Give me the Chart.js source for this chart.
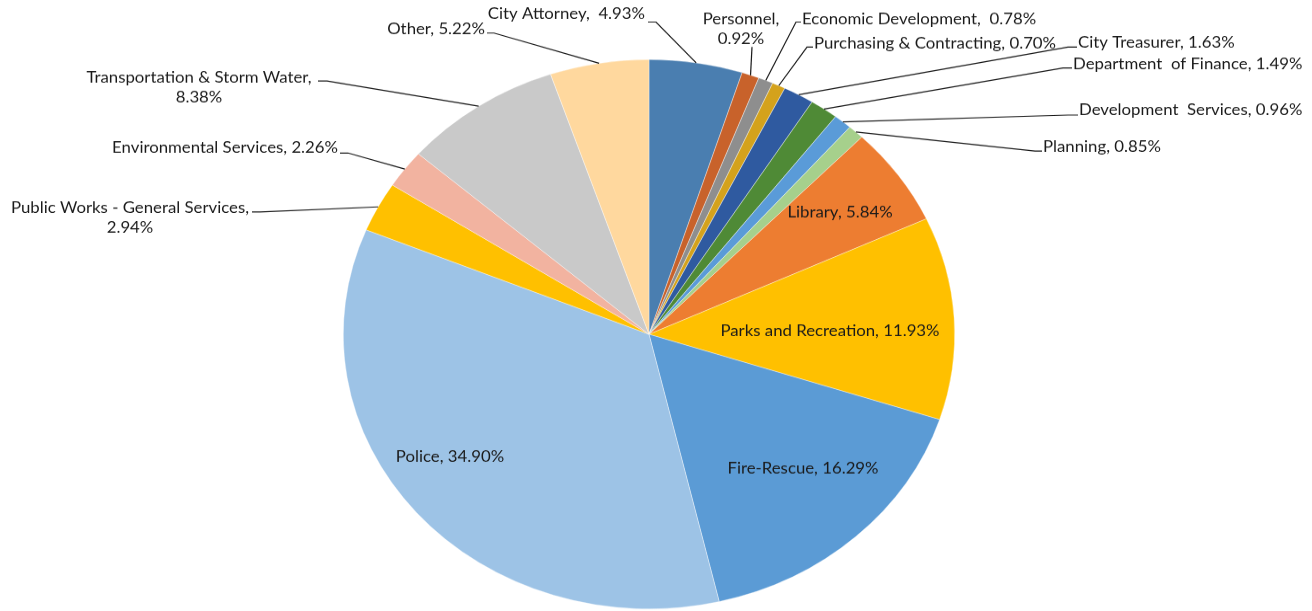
<!DOCTYPE html>
<html>
<head>
<meta charset="utf-8">
<script src="https://cdn.jsdelivr.net/npm/chart.js@4/dist/chart.umd.min.js"></script>
<style>
html,body{margin:0;padding:0;background:#fff;overflow:hidden;width:1312px;height:611px;}
#c{transform-origin:0 0;transform:scaleY(0.8985);display:block;}
</style>
</head>
<body>
<canvas id="c" width="1312" height="680"></canvas>
<script>
const categories = ["City Attorney","Personnel","Economic Development","Purchasing & Contracting","City Treasurer","Department of Finance","Development Services","Planning","Library","Parks and Recreation","Fire-Rescue","Police","Public Works - General Services","Environmental Services","Transportation & Storm Water","Other"];
const values = [4.93,0.92,0.78,0.70,1.63,1.49,0.96,0.85,5.84,11.93,16.29,34.90,2.94,2.26,8.38,5.22];
const valueLabels = ["4.93%","0.92%","0.78%","0.70%","1.63%","1.49%","0.96%","0.85%","5.84%","11.93%","16.29%","34.90%","2.94%","2.26%","8.38%","5.22%"];
const colors = ["#4a7eb0","#c8622b","#8e8e8e","#d4a21c","#2f5aa0","#4f8a36","#5a9bd8","#a6d08c","#ed7d31","#ffc000","#5b9bd5","#9dc3e6","#ffc000","#f2b3a0","#c9c9c9","#ffd89e"];

const SY = 611/680;
// label layout in final-picture pixels: text lines, anchor, alignment, leader start/elbow
const labelLayout = [
  {lines:["City Attorney,  4.93%"], x:645, y:14, align:"right", lead:[[648,22],[656,22]]},
  {lines:["Personnel,","0.92%"], x:741, y:19, align:"center", lead:[[752,47]]},
  {lines:["Economic Development,  0.78%"], x:802, y:19, align:"left", lead:[[801,22],[796,22]]},
  {lines:["Purchasing & Contracting, 0.70%"], x:814, y:44, align:"left", lead:[[813,47],[807,47]]},
  {lines:["City Treasurer, 1.63%"], x:1078, y:43, align:"left", lead:[[1077,47],[1068,47]]},
  {lines:["Department  of Finance, 1.49%"], x:1073, y:64, align:"left", lead:[[1072,68],[1063,68]]},
  {lines:["Development  Services, 0.96%"], x:1079, y:110, align:"left", lead:[[1078,115],[1068,115]]},
  {lines:["Planning, 0.85%"], x:1043, y:147, align:"left", lead:[[1042,151],[1035,151]]},
  {lines:["Library, 5.84%"], x:840, y:213, align:"center"},
  {lines:["Parks and Recreation, 11.93%"], x:830, y:331, align:"center"},
  {lines:["Fire-Rescue, 16.29%"], x:803, y:469, align:"center"},
  {lines:["Police, 34.90%"], x:450, y:457, align:"center"},
  {lines:["Public Works - General Services,","2.94%"], x:130, y:208, align:"center", lead:[[252,212],[260,212]]},
  {lines:["Environmental Services, 2.26%"], x:338, y:148, align:"right", lead:[[340,153],[348,153]]},
  {lines:["Transportation & Storm Water,","8.38%"], x:199, y:78, align:"center", lead:[[318,81],[327,81]]},
  {lines:["Other, 5.22%"], x:485, y:29, align:"right", lead:[[487,33],[494,33]]}
];

const labelPlugin = {
  id: "pieLabels",
  afterDatasetsDraw(chart) {
    const ctx = chart.ctx;
    const meta = chart.getDatasetMeta(0);
    ctx.save();
    ctx.font = "16.8px Lato, 'Open Sans', sans-serif";
    ctx.fillStyle = "#1a1a1a";
    ctx.textBaseline = "middle";
    labelLayout.forEach((L, i) => {
      const arc = meta.data[i];
      const p = arc.getProps(["x","y","startAngle","endAngle","outerRadius"], true);
      const mid = (p.startAngle + p.endAngle) / 2;
      const ex = p.x + Math.cos(mid) * p.outerRadius;
      const ey = p.y + Math.sin(mid) * p.outerRadius;
      ctx.textAlign = L.align;
      L.lines.forEach((t, k) => {
        ctx.fillText(t, L.x, (L.y + k * 20) / SY);
      });
      if (L.lead) {
        ctx.beginPath();
        ctx.strokeStyle = "#1a1a1a";
        ctx.lineWidth = 1.2;
        ctx.moveTo(L.lead[0][0], L.lead[0][1] / SY);
        for (let k = 1; k < L.lead.length; k++) ctx.lineTo(L.lead[k][0], L.lead[k][1] / SY);
        ctx.lineTo(ex, ey);
        ctx.stroke();
      }
    });
    ctx.restore();
  }
};

new Chart(document.getElementById("c"), {
  type: "pie",
  data: {
    labels: categories,
    datasets: [{
      data: values,
      backgroundColor: colors,
      borderColor: "rgba(255,255,255,0.6)",
      borderWidth: 0.6
    }]
  },
  options: {
    responsive: false,
    animation: false,
    layout: { padding: { left: 343, right: 357, top: 66, bottom: 2 } },
    plugins: { legend: { display: false }, tooltip: { enabled: false } }
  },
  plugins: [labelPlugin]
});
</script>
</body>
</html>
